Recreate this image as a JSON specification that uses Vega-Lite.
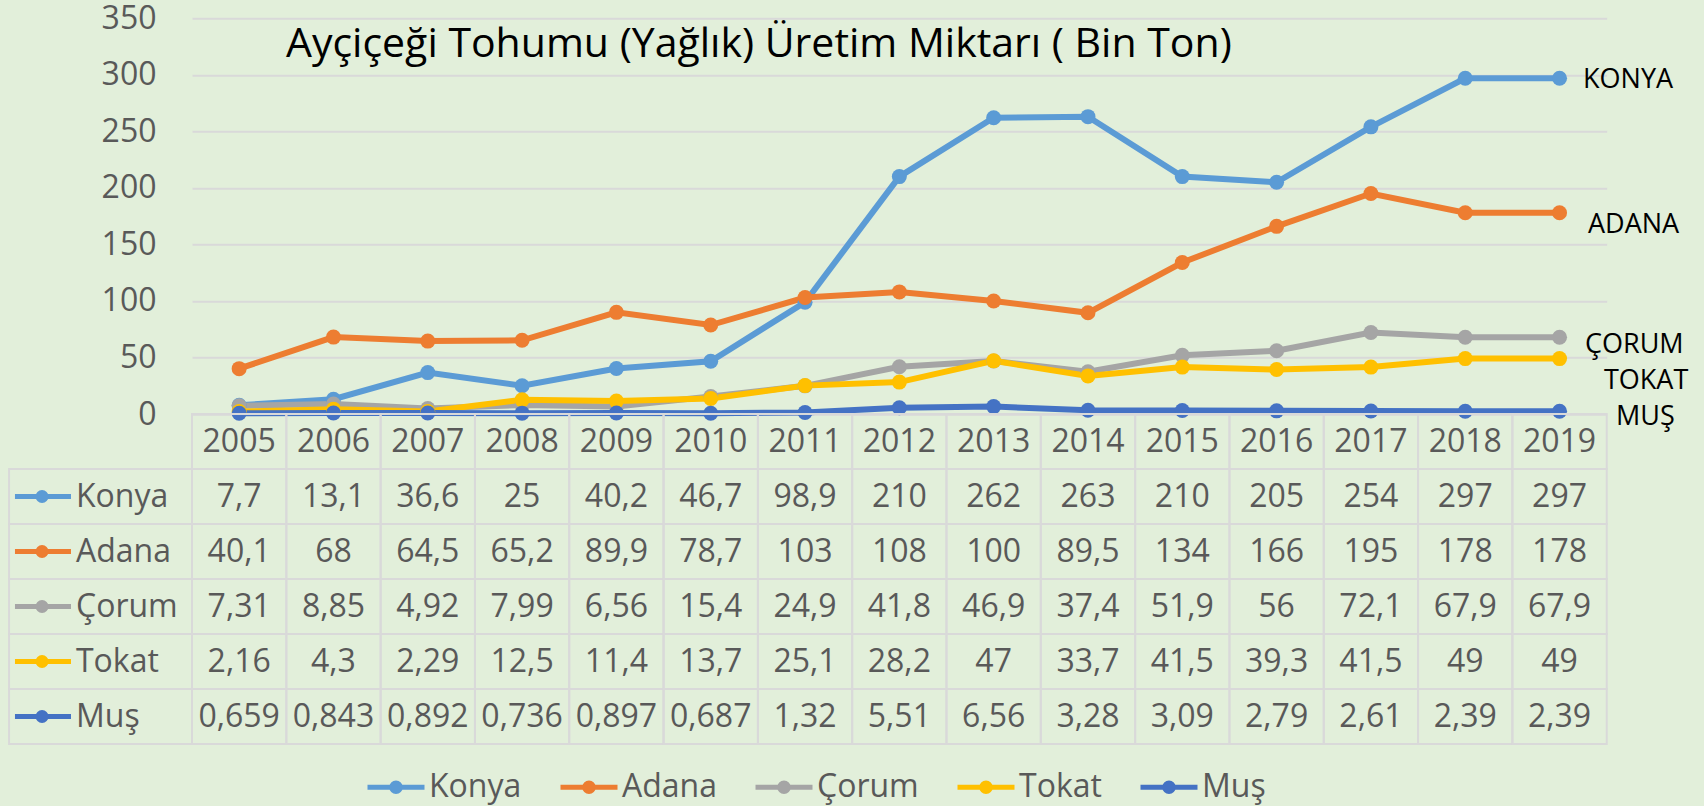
{
  "$schema": "https://vega.github.io/schema/vega-lite/v6.json",
  "width": 1414.7,
  "height": 395.7,
  "autosize": {"type": "none"},
  "padding": {"left": 192, "top": 18.3, "right": 97.3, "bottom": 392},
  "background": "#E2EFDA",
  "title": {
    "text": "Ayçiçeği Tohumu (Yağlık) Üretim Miktarı ( Bin Ton)",
    "anchor": "start",
    "frame": "group",
    "dx": 94,
    "offset": -96,
    "baseline": "alphabetic",
    "font": "Open Sans",
    "fontSize": 41,
    "fontWeight": "normal",
    "color": "#000000"
  },
  "config": {
    "view": {"stroke": null},
    "font": "Open Sans",
    "locale": {"number": {"decimal": ",", "thousands": ".", "grouping": [3], "currency": ["", " TL"]}}
  },
  "datasets": {
    "prod": [
      {"series": "Konya", "year": 2005, "value": 7.7},
      {"series": "Konya", "year": 2006, "value": 13.1},
      {"series": "Konya", "year": 2007, "value": 36.6},
      {"series": "Konya", "year": 2008, "value": 25},
      {"series": "Konya", "year": 2009, "value": 40.2},
      {"series": "Konya", "year": 2010, "value": 46.7},
      {"series": "Konya", "year": 2011, "value": 98.9},
      {"series": "Konya", "year": 2012, "value": 210},
      {"series": "Konya", "year": 2013, "value": 262},
      {"series": "Konya", "year": 2014, "value": 263},
      {"series": "Konya", "year": 2015, "value": 210},
      {"series": "Konya", "year": 2016, "value": 205},
      {"series": "Konya", "year": 2017, "value": 254},
      {"series": "Konya", "year": 2018, "value": 297},
      {"series": "Konya", "year": 2019, "value": 297},
      {"series": "Adana", "year": 2005, "value": 40.1},
      {"series": "Adana", "year": 2006, "value": 68},
      {"series": "Adana", "year": 2007, "value": 64.5},
      {"series": "Adana", "year": 2008, "value": 65.2},
      {"series": "Adana", "year": 2009, "value": 89.9},
      {"series": "Adana", "year": 2010, "value": 78.7},
      {"series": "Adana", "year": 2011, "value": 103},
      {"series": "Adana", "year": 2012, "value": 108},
      {"series": "Adana", "year": 2013, "value": 100},
      {"series": "Adana", "year": 2014, "value": 89.5},
      {"series": "Adana", "year": 2015, "value": 134},
      {"series": "Adana", "year": 2016, "value": 166},
      {"series": "Adana", "year": 2017, "value": 195},
      {"series": "Adana", "year": 2018, "value": 178},
      {"series": "Adana", "year": 2019, "value": 178},
      {"series": "Çorum", "year": 2005, "value": 7.31},
      {"series": "Çorum", "year": 2006, "value": 8.85},
      {"series": "Çorum", "year": 2007, "value": 4.92},
      {"series": "Çorum", "year": 2008, "value": 7.99},
      {"series": "Çorum", "year": 2009, "value": 6.56},
      {"series": "Çorum", "year": 2010, "value": 15.4},
      {"series": "Çorum", "year": 2011, "value": 24.9},
      {"series": "Çorum", "year": 2012, "value": 41.8},
      {"series": "Çorum", "year": 2013, "value": 46.9},
      {"series": "Çorum", "year": 2014, "value": 37.4},
      {"series": "Çorum", "year": 2015, "value": 51.9},
      {"series": "Çorum", "year": 2016, "value": 56},
      {"series": "Çorum", "year": 2017, "value": 72.1},
      {"series": "Çorum", "year": 2018, "value": 67.9},
      {"series": "Çorum", "year": 2019, "value": 67.9},
      {"series": "Tokat", "year": 2005, "value": 2.16},
      {"series": "Tokat", "year": 2006, "value": 4.3},
      {"series": "Tokat", "year": 2007, "value": 2.29},
      {"series": "Tokat", "year": 2008, "value": 12.5},
      {"series": "Tokat", "year": 2009, "value": 11.4},
      {"series": "Tokat", "year": 2010, "value": 13.7},
      {"series": "Tokat", "year": 2011, "value": 25.1},
      {"series": "Tokat", "year": 2012, "value": 28.2},
      {"series": "Tokat", "year": 2013, "value": 47},
      {"series": "Tokat", "year": 2014, "value": 33.7},
      {"series": "Tokat", "year": 2015, "value": 41.5},
      {"series": "Tokat", "year": 2016, "value": 39.3},
      {"series": "Tokat", "year": 2017, "value": 41.5},
      {"series": "Tokat", "year": 2018, "value": 49},
      {"series": "Tokat", "year": 2019, "value": 49},
      {"series": "Muş", "year": 2005, "value": 0.659},
      {"series": "Muş", "year": 2006, "value": 0.843},
      {"series": "Muş", "year": 2007, "value": 0.892},
      {"series": "Muş", "year": 2008, "value": 0.736},
      {"series": "Muş", "year": 2009, "value": 0.897},
      {"series": "Muş", "year": 2010, "value": 0.687},
      {"series": "Muş", "year": 2011, "value": 1.32},
      {"series": "Muş", "year": 2012, "value": 5.51},
      {"series": "Muş", "year": 2013, "value": 6.56},
      {"series": "Muş", "year": 2014, "value": 3.28},
      {"series": "Muş", "year": 2015, "value": 3.09},
      {"series": "Muş", "year": 2016, "value": 2.79},
      {"series": "Muş", "year": 2017, "value": 2.61},
      {"series": "Muş", "year": 2018, "value": 2.39},
      {"series": "Muş", "year": 2019, "value": 2.39}
    ],
    "years": [
      {"year": 2005}, {"year": 2006}, {"year": 2007}, {"year": 2008}, {"year": 2009},
      {"year": 2010}, {"year": 2011}, {"year": 2012}, {"year": 2013}, {"year": 2014},
      {"year": 2015}, {"year": 2016}, {"year": 2017}, {"year": 2018}, {"year": 2019}
    ],
    "series": [
      {"series": "Konya"}, {"series": "Adana"}, {"series": "Çorum"}, {"series": "Tokat"}, {"series": "Muş"}
    ]
  },
  "resolve": {"scale": {"y": "independent"}},
  "layer": [
    {
      "layer": [
        {
          "data": {"name": "prod"},
          "mark": {"type": "line", "strokeWidth": 6},
          "encoding": {
            "x": {"field": "year", "type": "quantitative", "scale": {"domain": [2004.5, 2019.5], "nice": false, "zero": false}, "axis": null},
            "y": {
              "field": "value", "type": "quantitative",
              "scale": {"domain": [0, 350], "nice": false, "zero": true},
              "axis": {
                "values": [0, 50, 100, 150, 200, 250, 300, 350],
                "title": null, "grid": true, "gridColor": "#D9D9D9", "gridWidth": 2,
                "domain": false, "ticks": false,
                "labelFont": "Open Sans", "labelFontSize": 32, "labelColor": "#595959", "labelPadding": 36
              }
            },
            "color": {
              "field": "series", "type": "nominal",
              "scale": {"domain": ["Konya", "Adana", "Çorum", "Tokat", "Muş"], "range": ["#5B9BD5", "#ED7D31", "#A5A5A5", "#FFC000", "#4472C4"]},
              "legend": {
                "orient": "none", "direction": "horizontal", "legendX": 173, "legendY": 738, "title": null,
                "symbolType": "M-1,0L1,0M-0.15,0A0.15,0.15,0,1,1,0.15,0A0.15,0.15,0,1,1,-0.15,0Z",
                "symbolSize": 3249, "symbolStrokeWidth": 5,
                "labelFont": "Open Sans", "labelFontSize": 32, "labelColor": "#595959", "labelOffset": 2,
                "columnPadding": 28,
                "encode": {"symbols": {"update": {"fill": {"scale": "color", "field": "value"}, "stroke": {"scale": "color", "field": "value"}, "opacity": {"value": 1}}}}
              }
            }
          }
        },
        {
          "data": {"name": "prod"},
          "mark": {"type": "point", "filled": true, "size": 225, "opacity": 1},
          "encoding": {
            "x": {"field": "year", "type": "quantitative", "scale": {"domain": [2004.5, 2019.5], "nice": false, "zero": false}},
            "y": {"field": "value", "type": "quantitative", "scale": {"domain": [0, 350], "nice": false, "zero": true}},
            "color": {"field": "series", "type": "nominal", "scale": {"domain": ["Konya", "Adana", "Çorum", "Tokat", "Muş"], "range": ["#5B9BD5", "#ED7D31", "#A5A5A5", "#FFC000", "#4472C4"]}}
          }
        },
        {
          "data": {"values": [{"label": "KONYA"}]},
          "mark": {"type": "text", "align": "left", "baseline": "middle", "font": "Open Sans", "fontSize": 27, "color": "#000000"},
          "encoding": {
            "x": {"datum": 2019.249, "type": "quantitative", "scale": {"domain": [2004.5, 2019.5], "nice": false, "zero": false}},
            "y": {"datum": 295.4, "type": "quantitative", "scale": {"domain": [0, 350], "nice": false, "zero": true}},
            "text": {"field": "label"}
          }
        },
        {
          "data": {"values": [{"label": "ADANA"}]},
          "mark": {"type": "text", "align": "left", "baseline": "middle", "font": "Open Sans", "fontSize": 27, "color": "#000000"},
          "encoding": {
            "x": {"datum": 2019.302, "type": "quantitative", "scale": {"domain": [2004.5, 2019.5], "nice": false, "zero": false}},
            "y": {"datum": 167.2, "type": "quantitative", "scale": {"domain": [0, 350], "nice": false, "zero": true}},
            "text": {"field": "label"}
          }
        },
        {
          "data": {"values": [{"label": "ÇORUM"}]},
          "mark": {"type": "text", "align": "left", "baseline": "middle", "font": "Open Sans", "fontSize": 27, "color": "#000000"},
          "encoding": {
            "x": {"datum": 2019.27, "type": "quantitative", "scale": {"domain": [2004.5, 2019.5], "nice": false, "zero": false}},
            "y": {"datum": 61.0, "type": "quantitative", "scale": {"domain": [0, 350], "nice": false, "zero": true}},
            "text": {"field": "label"}
          }
        },
        {
          "data": {"values": [{"label": "TOKAT"}]},
          "mark": {"type": "text", "align": "left", "baseline": "middle", "font": "Open Sans", "fontSize": 27, "color": "#000000"},
          "encoding": {
            "x": {"datum": 2019.471, "type": "quantitative", "scale": {"domain": [2004.5, 2019.5], "nice": false, "zero": false}},
            "y": {"datum": 29.6, "type": "quantitative", "scale": {"domain": [0, 350], "nice": false, "zero": true}},
            "text": {"field": "label"}
          }
        },
        {
          "data": {"values": [{"label": "MUŞ"}]},
          "mark": {"type": "text", "align": "left", "baseline": "middle", "font": "Open Sans", "fontSize": 27, "color": "#000000"},
          "encoding": {
            "x": {"datum": 2019.599, "type": "quantitative", "scale": {"domain": [2004.5, 2019.5], "nice": false, "zero": false}},
            "y": {"datum": -2.65, "type": "quantitative", "scale": {"domain": [0, 350], "nice": false, "zero": true}},
            "text": {"field": "label"}
          }
        }
      ]
    },
    {
      "layer": [
        {
          "data": {"name": "prod"},
          "mark": {"type": "rect", "filled": false, "stroke": "#D9D9D9", "strokeWidth": 2, "width": 94.313},
          "encoding": {
            "x": {"field": "year", "type": "quantitative", "scale": {"domain": [2004.5, 2019.5], "nice": false, "zero": false}},
            "y": {"field": "series", "type": "nominal", "scale": {"type": "band", "domain": ["hdr", "Konya", "Adana", "Çorum", "Tokat", "Muş"], "range": [395.7, 725.7], "paddingInner": 0, "paddingOuter": 0}, "axis": null}
          }
        },
        {
          "data": {"name": "years"},
          "mark": {"type": "rect", "filled": false, "stroke": "#D9D9D9", "strokeWidth": 2, "width": 94.313},
          "encoding": {
            "x": {"field": "year", "type": "quantitative", "scale": {"domain": [2004.5, 2019.5], "nice": false, "zero": false}},
            "y": {"datum": "hdr", "type": "nominal", "scale": {"type": "band", "domain": ["hdr", "Konya", "Adana", "Çorum", "Tokat", "Muş"], "range": [395.7, 725.7], "paddingInner": 0, "paddingOuter": 0}}
          }
        },
        {
          "data": {"name": "series"},
          "mark": {"type": "rect", "filled": false, "stroke": "#D9D9D9", "strokeWidth": 2},
          "encoding": {
            "x": {"datum": 2002.56, "type": "quantitative", "scale": {"domain": [2004.5, 2019.5], "nice": false, "zero": false}},
            "x2": {"datum": 2004.5},
            "y": {"field": "series", "type": "nominal", "scale": {"type": "band", "domain": ["hdr", "Konya", "Adana", "Çorum", "Tokat", "Muş"], "range": [395.7, 725.7], "paddingInner": 0, "paddingOuter": 0}}
          }
        },
        {
          "data": {"name": "years"},
          "mark": {"type": "text", "align": "center", "baseline": "middle", "font": "Open Sans", "fontSize": 32, "color": "#595959"},
          "encoding": {
            "x": {"field": "year", "type": "quantitative", "scale": {"domain": [2004.5, 2019.5], "nice": false, "zero": false}},
            "y": {"datum": "hdr", "type": "nominal", "scale": {"type": "band", "domain": ["hdr", "Konya", "Adana", "Çorum", "Tokat", "Muş"], "range": [395.7, 725.7], "paddingInner": 0, "paddingOuter": 0}},
            "text": {"field": "year", "type": "nominal"}
          }
        },
        {
          "data": {"name": "prod"},
          "mark": {"type": "text", "align": "center", "baseline": "middle", "font": "Open Sans", "fontSize": 32, "color": "#595959"},
          "encoding": {
            "x": {"field": "year", "type": "quantitative", "scale": {"domain": [2004.5, 2019.5], "nice": false, "zero": false}},
            "y": {"field": "series", "type": "nominal", "scale": {"type": "band", "domain": ["hdr", "Konya", "Adana", "Çorum", "Tokat", "Muş"], "range": [395.7, 725.7], "paddingInner": 0, "paddingOuter": 0}},
            "text": {"field": "value", "type": "quantitative", "format": "~g"}
          }
        },
        {
          "data": {"name": "series"},
          "mark": {"type": "text", "align": "left", "baseline": "middle", "font": "Open Sans", "fontSize": 32, "color": "#595959"},
          "encoding": {
            "x": {"datum": 2003.27, "type": "quantitative", "scale": {"domain": [2004.5, 2019.5], "nice": false, "zero": false}},
            "y": {"field": "series", "type": "nominal", "scale": {"type": "band", "domain": ["hdr", "Konya", "Adana", "Çorum", "Tokat", "Muş"], "range": [395.7, 725.7], "paddingInner": 0, "paddingOuter": 0}},
            "text": {"field": "series", "type": "nominal"}
          }
        },
        {
          "data": {"name": "series"},
          "mark": {"type": "rule", "strokeWidth": 5},
          "encoding": {
            "x": {"datum": 2002.623, "type": "quantitative", "scale": {"domain": [2004.5, 2019.5], "nice": false, "zero": false}},
            "x2": {"datum": 2003.217},
            "y": {"field": "series", "type": "nominal", "scale": {"type": "band", "domain": ["hdr", "Konya", "Adana", "Çorum", "Tokat", "Muş"], "range": [395.7, 725.7], "paddingInner": 0, "paddingOuter": 0}},
            "color": {"field": "series", "type": "nominal", "scale": {"domain": ["Konya", "Adana", "Çorum", "Tokat", "Muş"], "range": ["#5B9BD5", "#ED7D31", "#A5A5A5", "#FFC000", "#4472C4"]}}
          }
        },
        {
          "data": {"name": "series"},
          "mark": {"type": "point", "filled": true, "size": 170, "opacity": 1},
          "encoding": {
            "x": {"datum": 2002.91, "type": "quantitative", "scale": {"domain": [2004.5, 2019.5], "nice": false, "zero": false}},
            "y": {"field": "series", "type": "nominal", "scale": {"type": "band", "domain": ["hdr", "Konya", "Adana", "Çorum", "Tokat", "Muş"], "range": [395.7, 725.7], "paddingInner": 0, "paddingOuter": 0}},
            "color": {"field": "series", "type": "nominal", "scale": {"domain": ["Konya", "Adana", "Çorum", "Tokat", "Muş"], "range": ["#5B9BD5", "#ED7D31", "#A5A5A5", "#FFC000", "#4472C4"]}}
          }
        }
      ]
    }
  ]
}
